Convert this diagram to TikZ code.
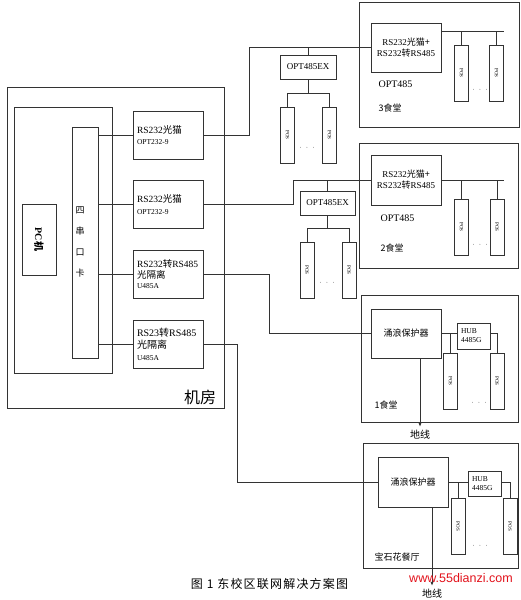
\documentclass[tikz,border=0pt]{standalone}
\usepackage{graphicx}
\usepackage{fontspec}
\setmainfont{Liberation Serif}
\newfontfamily\cjk{Noto Sans CJK SC}
\newfontfamily\cjkcap[LetterSpace=10]{Noto Sans CJK SC}
\newfontfamily\web{Liberation Sans}
\usetikzlibrary{arrows.meta}
\definecolor{gris}{HTML}{333333}
\definecolor{rojoweb}{HTML}{E2121B}
\newcommand{\zh}[1]{{\cjk #1}}
\newcommand{\subtxt}[1]{{\fontsize{7.5}{9}\selectfont #1}}

\begin{document}
\begin{tikzpicture}[x=1pt, y=-1pt,
    caja/.style={draw=gris, line width=0.7pt, rectangle, inner sep=0pt},
    conv/.style={caja, minimum width=70pt, minimum height=48pt, text width=62pt,
                 inner xsep=4pt, align=left, font=\fontsize{9.5}{11.5}\selectfont},
    terminal/.style={caja, minimum width=14pt, minimum height=56pt},
    linea/.style={draw=gris, line width=0.7pt},
    puntos/.style={font=\fontsize{7}{8}\selectfont},
    tierra/.style={linea, -{Latex[length=4pt,width=3pt]}}]
    \useasboundingbox (0,0) rectangle (521,600);

    % Sala de maquinas
    \node[caja, minimum width=217pt, minimum height=321pt] (sala) at (115.5,247.5) {};
    \node[font=\cjk\fontsize{16}{18}\selectfont] (salalab) at (200,397) {机房};
    \node[caja, minimum width=98pt, minimum height=266pt] (pc) at (63,240) {};
    \node[caja, minimum width=34pt, minimum height=71pt] (PC) at (39,239.5)
        {\rotatebox{-90}{\bfseries\fontsize{10}{12}\selectfont PC\zh{机}}};
    \node[caja, minimum width=26pt, minimum height=231pt] (K) at (85,242.5) {};
    \node[font=\cjk\fontsize{9}{21.3}\selectfont, align=center] (Klab) at (80,242) {四\\串\\口\\卡};

    % Convertidores
    \node[conv] (C1) at (168,135) {RS232\zh{光猫}\\\subtxt{OPT232-9}};
    \node[conv] (C2) at (168,204.5) {RS232\zh{光猫}\\\subtxt{OPT232-9}};
    \node[conv, font=\fontsize{9.5}{10.5}\selectfont] (C3) at (168,274.5) {RS232\zh{转}RS485\\\zh{光隔离}\\\subtxt{U485A}};
    \node[conv, font=\fontsize{10}{12}\selectfont] (C4) at (168,344.5) {RS23\zh{转}RS485\\\zh{光隔离}\\\subtxt{U485A}};

    % Tarjeta a convertidores
    \draw[linea] (K.east |- C1.west) -- (C1.west);
    \draw[linea] (K.east |- C2.west) -- (C2.west);
    \draw[linea] (K.east |- C3.west) -- (C3.west);
    \draw[linea] (K.east |- C4.west) -- (C4.west);

    % 3 comedor
    \node[caja, minimum width=160pt, minimum height=125pt] (O3) at (439,64.5) {};
    \node[caja, minimum width=70pt, minimum height=49pt, align=center,
          font=\fontsize{9}{11}\selectfont] (D3) at (406,47.5) {RS232\zh{光猫+}\\RS232\zh{转}RS485};
    \node[anchor=west, font=\fontsize{10}{12}\selectfont] (T3) at (375,84) {OPT485};
    \node[anchor=west, font=\cjk\fontsize{9}{11}\selectfont] (N3) at (375,108) {3食堂};
    \node[terminal] (Q3a) at (461.5,73) {\rotatebox{-90}{\tiny POS}};
    \node[terminal] (Q3b) at (496.5,73) {\rotatebox{-90}{\tiny POS}};
    \node[puntos] (d3) at (480,90) {$\cdot\;\cdot\;\cdot$};
    \coordinate (r3) at (504,31);
    \draw[linea] ([yshift=16.5pt]D3.east) -- (r3);
    \draw[linea] (Q3a.north) -- (Q3a.north |- r3);
    \draw[linea] (Q3b.north) -- (Q3b.north |- r3);

    % Repetidor del 3 comedor
    \node[caja, minimum width=56pt, minimum height=24pt, font=\fontsize{9}{11}\selectfont] (E3) at (308,67) {OPT485EX};
    \node[terminal] (P3a) at (287.5,135) {\rotatebox{-90}{\tiny POS}};
    \node[terminal] (P3b) at (329.5,135) {\rotatebox{-90}{\tiny POS}};
    \node[puntos] (e3d) at (307,148) {$\cdot\;\cdot\;\cdot$};
    \draw[linea] (C1.east) -| (249,47.5) -- (D3.west);
    \draw[linea] (E3.north) -- (E3.north |- D3.west);
    \coordinate (e3) at ([yshift=-14pt]E3.south);
    \draw[linea] (E3.south) -- (e3);
    \draw[linea] (P3a.north) |- (e3) -| (P3b.north);

    % 2 comedor
    \node[caja, minimum width=159pt, minimum height=125pt] (O2) at (438.5,205.5) {};
    \node[caja, minimum width=70pt, minimum height=50pt, align=center,
          font=\fontsize{9}{11}\selectfont] (D2) at (406,180) {RS232\zh{光猫+}\\RS232\zh{转}RS485};
    \node[anchor=west, font=\fontsize{10}{12}\selectfont] (T2) at (377,218) {OPT485};
    \node[anchor=west, font=\cjk\fontsize{9}{11}\selectfont] (N2) at (377,248) {2食堂};
    \node[terminal] (Q2a) at (461.5,227) {\rotatebox{-90}{\tiny POS}};
    \node[terminal] (Q2b) at (497,227) {\rotatebox{-90}{\tiny POS}};
    \node[puntos] (d2) at (480,245) {$\cdot\;\cdot\;\cdot$};
    \coordinate (r2) at (504,180);
    \draw[linea] (D2.east) -- (r2);
    \draw[linea] (Q2a.north) -- (Q2a.north |- r2);
    \draw[linea] (Q2b.north) -- (Q2b.north |- r2);

    % Repetidor del 2 comedor
    \node[caja, minimum width=55pt, minimum height=24pt, font=\fontsize{9}{11}\selectfont] (E2) at (327.5,203) {OPT485EX};
    \node[terminal] (P2a) at (307,270) {\rotatebox{-90}{\tiny POS}};
    \node[terminal] (P2b) at (349,270) {\rotatebox{-90}{\tiny POS}};
    \node[puntos] (e2d) at (327,283) {$\cdot\;\cdot\;\cdot$};
    \draw[linea] (C2.east) -| (293,180) -- (D2.west);
    \draw[linea] (E2.north) -- (E2.north |- D2.west);
    \coordinate (e2) at ([yshift=-13pt]E2.south);
    \draw[linea] (E2.south) -- (e2);
    \draw[linea] (P2a.north) |- (e2) -| (P2b.north);

    % 1 comedor
    \node[caja, minimum width=157pt, minimum height=127pt] (O1) at (439.5,358.5) {};
    \node[caja, minimum width=70pt, minimum height=49pt, font=\cjk\fontsize{9}{11}\selectfont] (S1) at (406,333.5) {涌浪保护器};
    \node[caja, minimum width=33pt, minimum height=26pt, text width=25pt, inner xsep=4pt, align=left,
          font=\fontsize{7.5}{9}\selectfont] (H1) at (473.5,336) {HUB\\4485G};
    \node[terminal] (R1a) at (450.5,381) {\rotatebox{-90}{\tiny POS}};
    \node[terminal] (R1b) at (497,381) {\rotatebox{-90}{\tiny POS}};
    \node[puntos] (d1) at (479,403) {$\cdot\;\cdot\;\cdot$};
    \node[anchor=west, font=\cjk\fontsize{9}{11}\selectfont] (N1) at (371,405) {1食堂};
    \node[font=\cjk\fontsize{10}{12}\selectfont] (g1) at (420,435) {地线};
    \draw[linea] (C3.east) -| (269,333.5) -- (S1.west);
    \draw[linea] (S1.east) -- (S1.east -| H1.west);
    \draw[linea] (R1a.north) -- (R1a.north |- S1.east);
    \draw[linea] (S1.east -| H1.east) -| (R1b.north);
    \draw[tierra] (S1.south -| g1) -- (g1.north);

    % Restaurante
    \node[caja, minimum width=155pt, minimum height=125pt] (O0) at (440.5,505.5) {};
    \node[caja, minimum width=70pt, minimum height=50pt, font=\cjk\fontsize{9}{11}\selectfont] (S0) at (413,482) {涌浪保护器};
    \node[caja, minimum width=33pt, minimum height=25pt, text width=25pt, inner xsep=4pt, align=left,
          font=\fontsize{7.5}{9}\selectfont] (H0) at (484.5,483.5) {HUB\\4485G};
    \node[terminal] (R0a) at (458,526.5) {\rotatebox{-90}{\tiny POS}};
    \node[terminal] (R0b) at (510,526.5) {\rotatebox{-90}{\tiny POS}};
    \node[puntos] (d0) at (480,546) {$\cdot\;\cdot\;\cdot$};
    \node[anchor=west, font=\cjk\fontsize{9}{11}\selectfont] (N0) at (371,557) {宝石花餐厅};
    \node[font=\cjk\fontsize{10}{12}\selectfont] (g0) at (432,594) {地线};
    \draw[linea] (C4.east) -| (237,482) -- (S0.west);
    \draw[linea] (S0.east) -- (S0.east -| H0.west);
    \draw[linea] (R0a.north) -- (R0a.north |- S0.east);
    \draw[linea] (S0.east -| H0.east) -| (R0b.north);
    \draw[tierra] (S0.south -| g0) -- (g0.north);

    % Pie de figura
    \node[font=\web\fontsize{12.5}{14}\selectfont, text=rojoweb] (web) at (461,578.5) {www.55dianzi.com};
    \node[font=\cjkcap\fontsize{12}{14}\selectfont] (cap) at (269.5,584) {图 1 东校区联网解决方案图};
\end{tikzpicture}
\end{document}
